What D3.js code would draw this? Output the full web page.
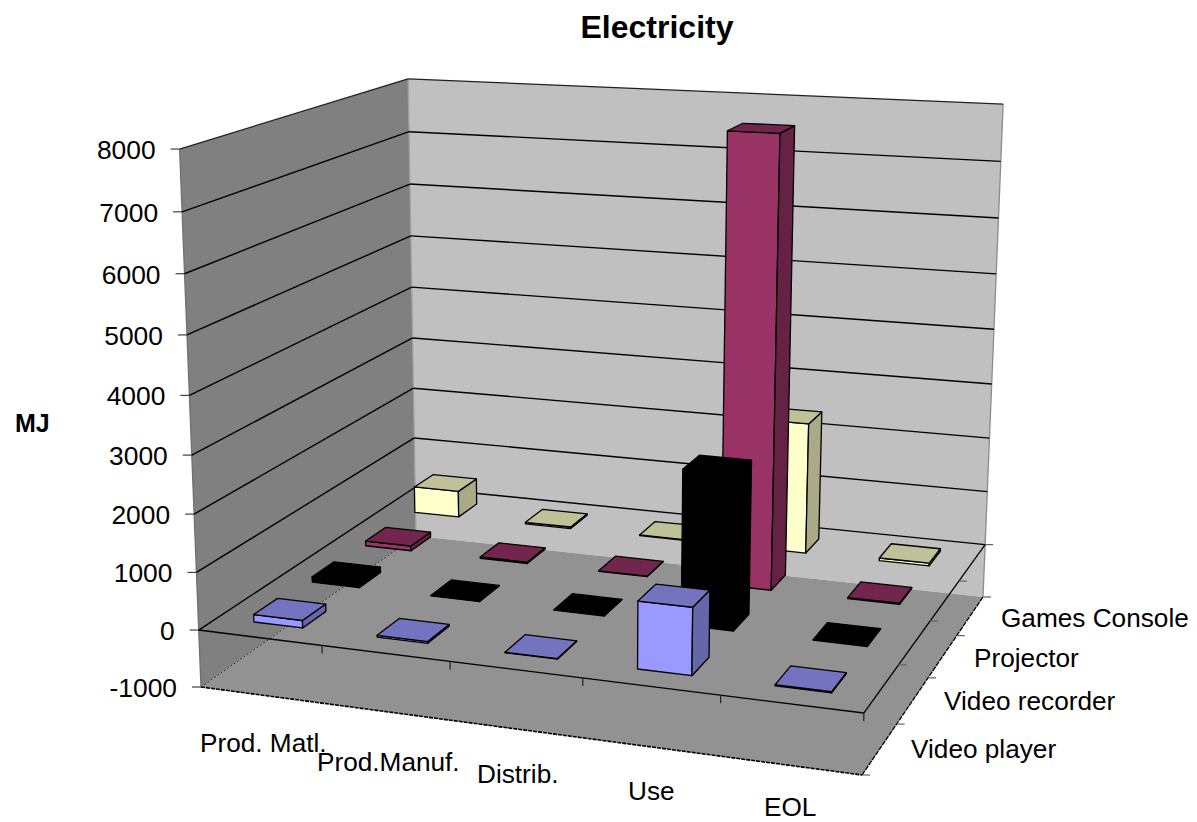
<!DOCTYPE html>
<html lang="en">

<head>
    <meta charset="UTF-8">
    <title>Electricity</title>
    <script src="https://d3js.org/d3.v7.min.js"></script>
    <style>
        body { margin: 0; background: #fff; }
        svg { display: block; }
        text { font-family: "Liberation Sans", Arial, sans-serif; fill: #000; }
    </style>
</head>

<body>

    <svg width="1197" height="822"></svg>

    <script>

        // Chart data
        const categories = ["Prod. Matl.", "Prod.Manuf.", "Distrib.", "Use", "EOL"];
        const seriesNames = ["Video player", "Video recorder", "Projector", "Games Console"];
        const videoPlayer = [130, 30, 10, 1130, 20];
        const videoRecorder = [100, 10, 10, 2680, 10];
        const projector = [90, 25, 10, 7900, 20];
        const gamesConsole = [500, 30, 15, 2400, 50];
        const valueTicks = [-1000, 0, 1000, 2000, 3000, 4000, 5000, 6000, 7000, 8000];

        const seriesValues = [videoPlayer, videoRecorder, projector, gamesConsole];
        const barColors = [
            { front: "#9999ff", top: "#7373c0", side: "#6666aa" },
            { front: "#000000", top: "#000000", side: "#000000" },
            { front: "#993366", top: "#73264d", side: "#662244" },
            { front: "#ffffcc", top: "#c0c099", side: "#aaaa88" }
        ];

        const svg = d3.select("svg");

        // Floor corners on screen at -1000, and the point the verticals run to
        const floorQuad = [[201, 687], [862, 775], [983, 597], [416, 536]];
        const nadir = [585, 10337];
        const tilt = -0.0528;

        // Unit square to quad homography, returns homogeneous coordinates
        function homography(q) {
            const [[x0, y0], [x1, y1], [x2, y2], [x3, y3]] = q;
            const dx1 = x1 - x2, dx2 = x3 - x2, sx = x0 - x1 + x2 - x3;
            const dy1 = y1 - y2, dy2 = y3 - y2, sy = y0 - y1 + y2 - y3;
            const det = dx1 * dy2 - dx2 * dy1;
            const g = (sx * dy2 - dx2 * sy) / det;
            const h = (dx1 * sy - sx * dy1) / det;
            const a = x1 - x0 + g * x1, b = x3 - x0 + h * x3;
            const d = y1 - y0 + g * y1, e = y3 - y0 + h * y3;
            return (t, s) => [a * t + b * s + x0, d * t + e * s + y0, g * t + h * s + 1];
        }
        const floorAt = homography(floorQuad);

        // Scales: category and series give box fractions, value gives height fraction
        const xBand = d3.scaleBand().domain(categories).range([0, 1]).paddingInner(0.6).paddingOuter(0.3);
        const zBand = d3.scaleBand().domain(seriesNames).range([0, 1]).paddingInner(0.6).paddingOuter(0.3);
        const yScale = d3.scaleLinear().domain([-1000, 8000]).range([0, 1]);

        // 3D to screen, t along categories, s into depth, v the value
        function project(t, s, v) {
            const [X, Y, W] = floorAt(t, s);
            const c = tilt * yScale(v);
            const w = W + c;
            return [(X + c * nadir[0]) / w, (Y + c * nadir[1]) / w];
        }

        const line = d3.line();
        const polygon = pts => line(pts) + "Z";

        function face(pts, fill, stroke, width) {
            svg.append("path")
               .attr("d", polygon(pts))
               .attr("fill", fill)
               .attr("stroke", stroke || "none")
               .attr("stroke-width", width || 0)
               .attr("stroke-linejoin", "round");
        }

        function segment(a, b, color, width, dash) {
            svg.append("line")
               .attr("x1", a[0]).attr("y1", a[1])
               .attr("x2", b[0]).attr("y2", b[1])
               .attr("stroke", color)
               .attr("stroke-width", width)
               .attr("stroke-dasharray", dash || null);
        }

        const vMin = -1000, vMax = 8000;

        // Walls and floor
        face([project(0, 1, vMin), project(1, 1, vMin), project(1, 1, vMax), project(0, 1, vMax)], "#c0c0c0");
        face([project(0, 0, vMin), project(0, 1, vMin), project(0, 1, vMax), project(0, 0, vMax)], "#808080");
        face([project(0, 0, vMin), project(1, 0, vMin), project(1, 1, vMin), project(0, 1, vMin)], "#929292");

        // Wall edges
        segment(project(0, 1, vMin), project(0, 1, vMax), "#a0a0a0", 1.3);
        segment(project(1, 1, vMin), project(1, 1, vMax), "#8c8c8c", 1.3);
        segment(project(0, 0, vMin), project(0, 0, vMax), "#707070", 1.3);
        segment(project(0, 0, vMax), project(0, 1, vMax), "#202020", 1.3);
        segment(project(0, 1, vMax), project(1, 1, vMax), "#202020", 1.3);
        segment(project(0, 0, vMin), project(1, 0, vMin), "#000", 1.6, "4 1");
        segment(project(1, 0, vMin), project(1, 1, vMin), "#000", 1.3, "5 1");
        segment(project(0, 0, vMin), project(0, 1, vMin), "#303030", 1, "2 2");

        // Gridlines on both walls, with the value ticks
        valueTicks.forEach(v => {
            if (v > vMin && v < vMax) {
                segment(project(0, 0, v), project(0, 1, v), "#000", 1.4);
                segment(project(0, 1, v), project(1, 1, v), "#000", 1.4);
            }
            const p = project(0, 0, v);
            segment([p[0] - 9, p[1]], p, "#404040", 1.2);
            svg.append("text")
               .attr("x", p[0] - 24)
               .attr("y", p[1] + 10)
               .attr("text-anchor", "end")
               .style("font-size", "26.4px")
               .text(v);
        });

        // Zero level edges around the front and right of the floor
        segment(project(0, 0, 0), project(1, 0, 0), "#000", 1.4);
        segment(project(1, 0, 0), project(1, 1, 0), "#000", 1.3);

        // Category ticks go down, depth ticks go right
        d3.range(1, 6).forEach(i => {
            const p = project(i / 5, 0, 0);
            segment(p, [p[0], p[1] + 8], "#202020", 1.2);
        });
        d3.range(0, 5).forEach(i => {
            const a = project(1, i / 4, 0), b = project(1, i / 4, vMin);
            if (i > 0) segment(a, [a[0] + 8, a[1]], "#606060", 1.2);
            segment(b, [b[0] + 8, b[1]], "#606060", 1.2);
        });

        // Bars, back to front and right to left so nearer ones paint over
        d3.range(seriesNames.length - 1, -1, -1).forEach(si => {
            const s0 = zBand(seriesNames[si]), s1 = s0 + zBand.bandwidth();
            const c = barColors[si];
            d3.range(categories.length - 1, -1, -1).forEach(ci => {
                const t0 = xBand(categories[ci]), t1 = t0 + xBand.bandwidth();
                const v = seriesValues[si][ci];
                face([project(t0, s0, 0), project(t1, s0, 0), project(t1, s0, v), project(t0, s0, v)], c.front, "#000", 1.3);
                face([project(t1, s0, 0), project(t1, s1, 0), project(t1, s1, v), project(t1, s0, v)], c.side, "#000", 1.3);
                face([project(t0, s0, v), project(t1, s0, v), project(t1, s1, v), project(t0, s1, v)], c.top, "#000", 1.3);
            });
        });

        // Axis labels, placed by hand as they sit in the picture
        const catLabelX = [200, 317, 477, 628, 764];
        const catLabelY = [752, 771, 783, 800, 816];
        categories.forEach((d, i) => {
            svg.append("text").attr("x", catLabelX[i]).attr("y", catLabelY[i])
               .style("font-size", "26.2px").text(d);
        });

        const serLabelX = [911, 944, 974, 1001];
        const serLabelY = [758, 710, 667, 627];
        seriesNames.forEach((d, i) => {
            svg.append("text").attr("x", serLabelX[i]).attr("y", serLabelY[i])
               .style("font-size", "26.2px").text(d);
        });

        // Title and value axis name
        svg.append("text")
           .attr("x", 657)
           .attr("y", 38)
           .attr("text-anchor", "middle")
           .style("font-size", "32px")
           .style("font-weight", "bold")
           .text("Electricity");

        svg.append("text")
           .attr("x", 15)
           .attr("y", 432)
           .style("font-size", "25px")
           .style("font-weight", "bold")
           .text("MJ");

    </script>

</body>

</html>
